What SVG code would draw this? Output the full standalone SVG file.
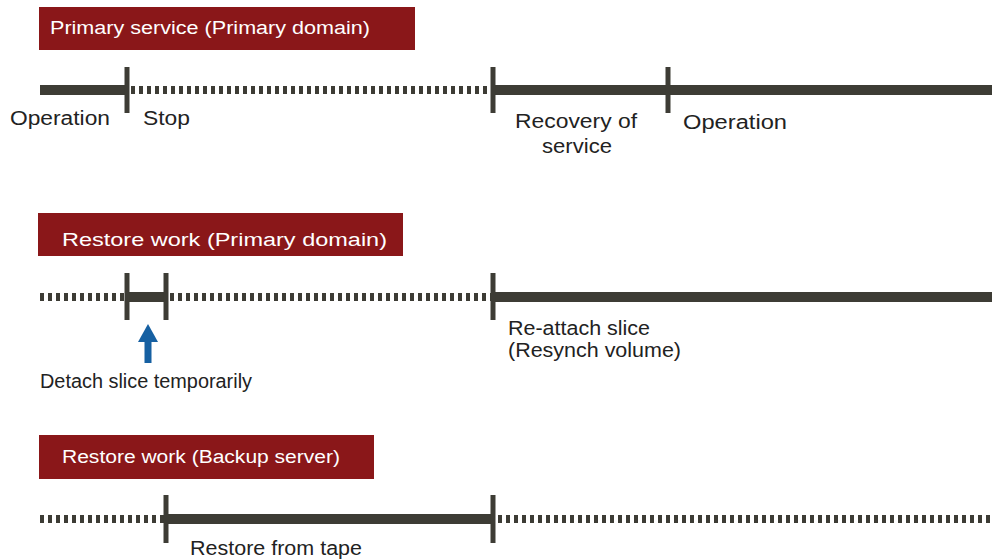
<svg xmlns="http://www.w3.org/2000/svg" width="992" height="560" viewBox="0 0 992 560">
<style>
.box{fill:#8a1719}
.ttl{fill:#ffffff;font-family:"Liberation Sans",Arial,sans-serif;font-size:18px}
.lbl{fill:#222222;font-family:"Liberation Sans",Arial,sans-serif;font-size:20px}
.solid{stroke:#3d3c35;stroke-width:10;fill:none}
.dot{stroke:#3d3c35;stroke-width:8;stroke-dasharray:4 4;fill:none}
.tick{stroke:#3d3c35;stroke-width:5;fill:none}
.arr{fill:#1660a2}
</style>
<rect width="992" height="560" fill="#ffffff"/>
<g id="lane-primary-service">
<rect class="box" x="39" y="7" width="376" height="43"/>
<text class="ttl" x="50" y="34" textLength="320" lengthAdjust="spacingAndGlyphs">Primary service (Primary domain)</text>
</g>
<g id="lane-restore-primary">
<rect class="box" x="38" y="213" width="365" height="43"/>
<text class="ttl" x="62" y="246" textLength="325" lengthAdjust="spacingAndGlyphs">Restore work (Primary domain)</text>
</g>
<g id="lane-restore-backup">
<rect class="box" x="39" y="435" width="335" height="44"/>
<text class="ttl" x="62" y="463" textLength="278" lengthAdjust="spacingAndGlyphs">Restore work (Backup server)</text>
</g>
<g id="connectors">
<line class="solid" x1="40" y1="90" x2="127" y2="90"/>
<line class="dot" x1="131" y1="90" x2="491" y2="90"/>
<line class="solid" x1="493" y1="90" x2="992" y2="90"/>
<line class="tick" x1="127" y1="67" x2="127" y2="113"/>
<line class="tick" x1="493" y1="67" x2="493" y2="113"/>
<line class="tick" x1="668" y1="67" x2="668" y2="113"/>

<line class="dot" x1="40" y1="297" x2="125" y2="297"/>
<line class="solid" x1="127" y1="297" x2="166" y2="297"/>
<line class="dot" x1="170" y1="297" x2="491" y2="297"/>
<line class="solid" x1="493" y1="297" x2="992" y2="297"/>
<line class="tick" x1="127" y1="273" x2="127" y2="320"/>
<line class="tick" x1="166" y1="273" x2="166" y2="320"/>
<line class="tick" x1="493" y1="273" x2="493" y2="320"/>

<line class="dot" x1="40" y1="519" x2="164" y2="519"/>
<line class="solid" x1="166" y1="519" x2="493" y2="519"/>
<line class="dot" x1="498" y1="519" x2="992" y2="519"/>
<line class="tick" x1="166" y1="495" x2="166" y2="543"/>
<line class="tick" x1="493" y1="495" x2="493" y2="543"/>

<polygon class="arr" points="148,324 158,342 138,342"/>
<rect class="arr" x="144.5" y="341" width="7" height="22"/>
</g>
<g id="labels">
<text class="lbl" x="10" y="125" textLength="100" lengthAdjust="spacingAndGlyphs">Operation</text>
<text class="lbl" x="143" y="125" textLength="47" lengthAdjust="spacingAndGlyphs">Stop</text>
<text class="lbl" x="515" y="128" textLength="122" lengthAdjust="spacingAndGlyphs">Recovery of</text>
<text class="lbl" x="542" y="153" textLength="70" lengthAdjust="spacingAndGlyphs">service</text>
<text class="lbl" x="683" y="129" textLength="104" lengthAdjust="spacingAndGlyphs">Operation</text>
<text class="lbl" x="508" y="335" textLength="142" lengthAdjust="spacingAndGlyphs">Re-attach slice</text>
<text class="lbl" x="508" y="357" textLength="173" lengthAdjust="spacingAndGlyphs">(Resynch volume)</text>
<text class="lbl" x="40" y="388" textLength="212" lengthAdjust="spacingAndGlyphs">Detach slice temporarily</text>
<text class="lbl" x="190" y="555" textLength="172" lengthAdjust="spacingAndGlyphs">Restore from tape</text>
</g>
</svg>
